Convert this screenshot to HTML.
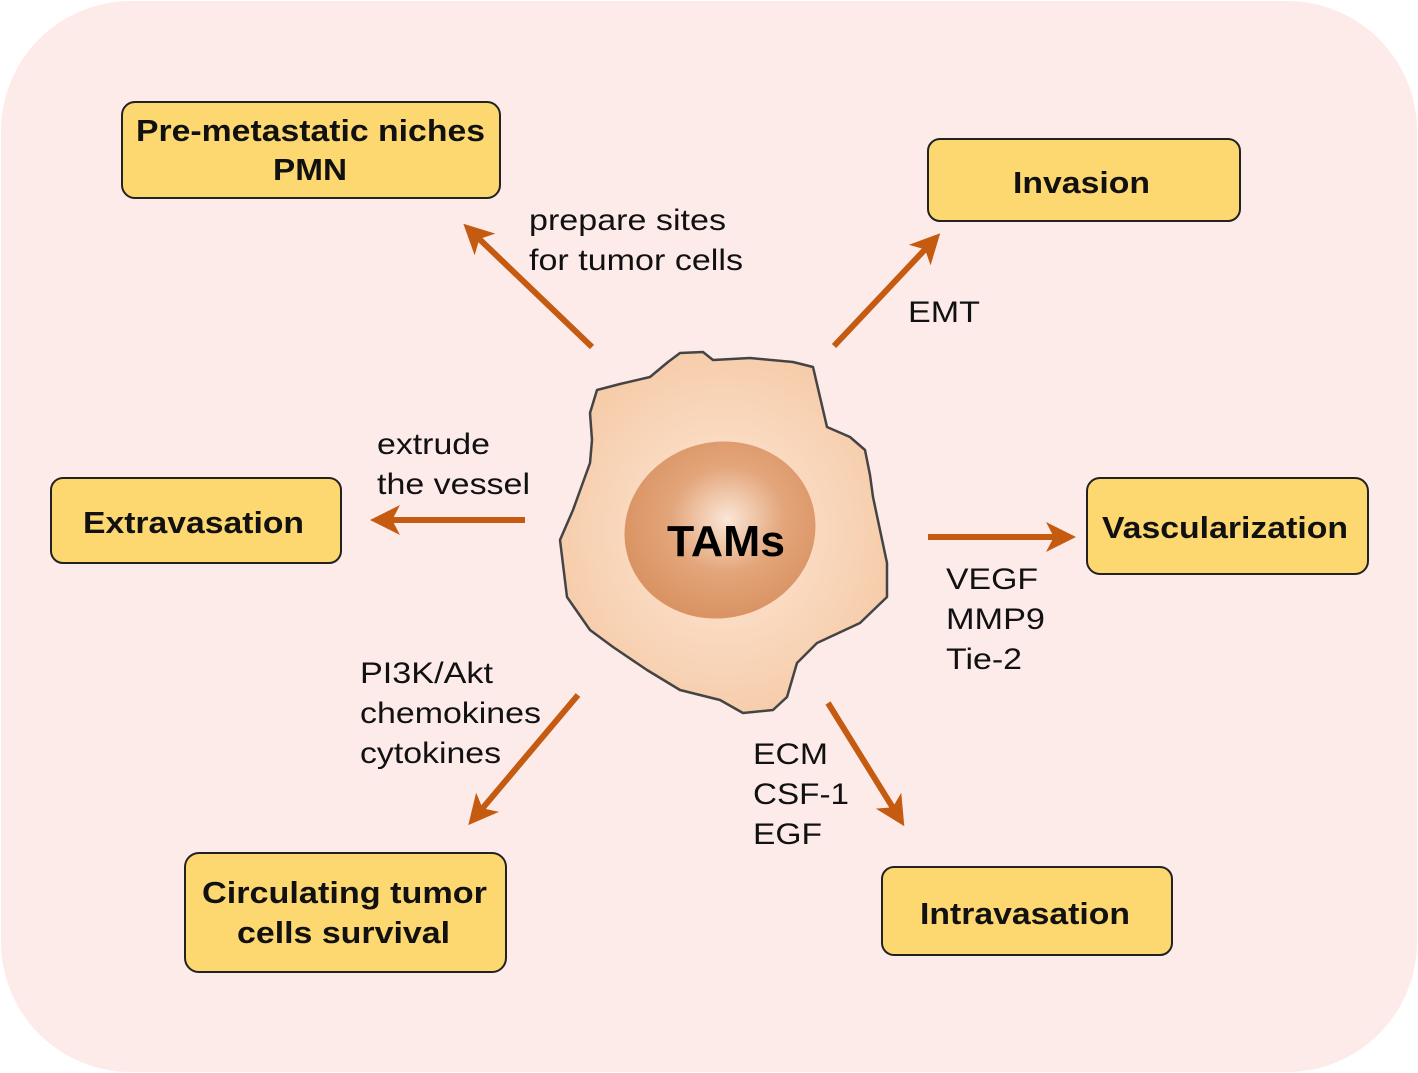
<!DOCTYPE html>
<html><head><style>body{margin:0;background:#fff}svg{display:block}</style></head><body>
<svg width="1418" height="1073" viewBox="0 0 1418 1073" font-family="Liberation Sans, Arial, sans-serif">
<defs>
<radialGradient id="cg" cx="50%" cy="50%" r="55%"><stop offset="0" stop-color="#fde7d6"/><stop offset="1" stop-color="#f6cba8"/></radialGradient>
<radialGradient id="ng" cx="55%" cy="45%" r="60%"><stop offset="0" stop-color="#fbe6d6"/><stop offset="0.5" stop-color="#e3a57a"/><stop offset="1" stop-color="#d8905f"/></radialGradient>
<marker id="ah" markerWidth="5" markerHeight="5" refX="3" refY="2.5" orient="auto" markerUnits="strokeWidth"><path d="M0,0 L5,2.5 L0,5 L1.3,2.5 Z" fill="#c55a11"/></marker>
</defs>
<rect x="1" y="1" width="1416" height="1071" rx="130" fill="#fdebea"/>
<polygon points="597,390 620,384 650,377 668,362 680,353 703,352 713,360 750,358 793,362 813,367 820,397 827,427 850,437 865,450 870,475 873,497 880,530 887,563 887,597 860,623 817,643 797,663 787,697 773,710 743,713 720,700 680,690 647,670 613,647 590,630 567,597 560,540 573,510 590,463 592,440 590,413" fill="url(#cg)" stroke="#444" stroke-width="2.5" stroke-linejoin="round"/>
<ellipse cx="720" cy="530" rx="96" ry="88" transform="rotate(-15 720 530)" fill="url(#ng)"/>
<text x="667" y="556" font-size="44" font-weight="bold" textLength="118" lengthAdjust="spacingAndGlyphs">TAMs</text>
<g stroke="#c55a11" stroke-width="6" fill="none" marker-end="url(#ah)">
<line x1="592" y1="347" x2="472" y2="232"/>
<line x1="834" y1="346" x2="932" y2="242"/>
<line x1="525" y1="520" x2="382" y2="520"/>
<line x1="928" y1="537" x2="1064" y2="537"/>
<line x1="578" y1="695" x2="476" y2="816"/>
<line x1="828" y1="703" x2="898" y2="816"/>
</g>
<g fill="#fdd870" stroke="#222" stroke-width="2">
<rect x="122" y="102" width="378" height="96" rx="13"/>
<rect x="928" y="139" width="312" height="82" rx="12"/>
<rect x="51" y="478" width="290" height="85" rx="12"/>
<rect x="1087" y="478" width="281" height="96" rx="13"/>
<rect x="185" y="853" width="321" height="119" rx="14"/>
<rect x="882" y="867" width="290" height="88" rx="12"/>
</g>
<g font-weight="bold" font-size="31" fill="#111" lengthAdjust="spacingAndGlyphs">
<text x="136" y="141" textLength="349" lengthAdjust="spacingAndGlyphs">Pre-metastatic niches</text>
<text x="273" y="180" textLength="74" lengthAdjust="spacingAndGlyphs">PMN</text>
<text x="1013" y="193" textLength="137" lengthAdjust="spacingAndGlyphs">Invasion</text>
<text x="83" y="533" textLength="221" lengthAdjust="spacingAndGlyphs">Extravasation</text>
<text x="1102" y="538" textLength="246" lengthAdjust="spacingAndGlyphs">Vascularization</text>
<text x="202" y="903" textLength="285" lengthAdjust="spacingAndGlyphs">Circulating tumor</text>
<text x="237" y="943" textLength="213" lengthAdjust="spacingAndGlyphs">cells survival</text>
<text x="920" y="924" textLength="210" lengthAdjust="spacingAndGlyphs">Intravasation</text>
</g>
<g font-size="30" fill="#111">
<text x="529" y="230" textLength="197" lengthAdjust="spacingAndGlyphs">prepare sites</text>
<text x="529" y="270" textLength="214" lengthAdjust="spacingAndGlyphs">for tumor cells</text>
<text x="908" y="322" textLength="72" lengthAdjust="spacingAndGlyphs">EMT</text>
<text x="377" y="454" textLength="113" lengthAdjust="spacingAndGlyphs">extrude</text>
<text x="377" y="494" textLength="153" lengthAdjust="spacingAndGlyphs">the vessel</text>
<text x="946" y="589" textLength="92" lengthAdjust="spacingAndGlyphs">VEGF</text>
<text x="946" y="629" textLength="99" lengthAdjust="spacingAndGlyphs">MMP9</text>
<text x="946" y="669" textLength="76" lengthAdjust="spacingAndGlyphs">Tie-2</text>
<text x="360" y="683" textLength="133" lengthAdjust="spacingAndGlyphs">PI3K/Akt</text>
<text x="360" y="723" textLength="181" lengthAdjust="spacingAndGlyphs">chemokines</text>
<text x="360" y="763" textLength="141" lengthAdjust="spacingAndGlyphs">cytokines</text>
<text x="753" y="764" textLength="75" lengthAdjust="spacingAndGlyphs">ECM</text>
<text x="753" y="804" textLength="96" lengthAdjust="spacingAndGlyphs">CSF-1</text>
<text x="753" y="844" textLength="69" lengthAdjust="spacingAndGlyphs">EGF</text>
</g>
</svg>
</body></html>
